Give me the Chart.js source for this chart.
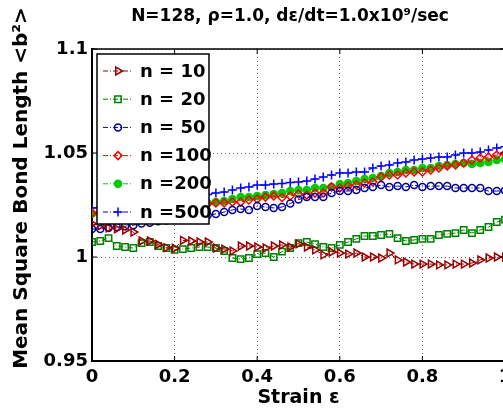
<!DOCTYPE html>
<html>
<head>
<meta charset="utf-8">
<script src="https://cdn.jsdelivr.net/npm/chart.js@4.4.0/dist/chart.umd.min.js"></script>
<style>
  html, body { margin: 0; padding: 0; background: #fff; overflow: hidden; }
  canvas { display: block; }
</style>
</head>
<body>
<canvas id="bondChart" width="520" height="413"></canvas>
<script>
// strain values (x) and mean square bond length for each n
const strain = [0, 0.02, 0.04, 0.06, 0.08, 0.1, 0.12, 0.14, 0.16, 0.18,
  0.2, 0.22, 0.24, 0.26, 0.28, 0.3, 0.32, 0.34, 0.36, 0.38,
  0.4, 0.42, 0.44, 0.46, 0.48, 0.5, 0.52, 0.54, 0.56, 0.58,
  0.6, 0.62, 0.64, 0.66, 0.68, 0.7, 0.72, 0.74, 0.76, 0.78,
  0.8, 0.82, 0.84, 0.86, 0.88, 0.9, 0.92, 0.94, 0.96, 0.98, 1];

const n10 = [1.016, 1.015, 1.014, 1.0135, 1.013, 1.012, 1.0077, 1.0077, 1.006, 1.0045,
  1.0042, 1.008, 1.0077, 1.0072, 1.0072, 1.0043, 1.0038, 1.0029, 1.0053, 1.0053,
  1.0048, 1.0043, 1.0053, 1.0058, 1.0048, 1.0063, 1.0048, 1.0034, 1.001, 1.0024,
  1.0019, 1.0014, 1.0019, 1.0, 1.0, 0.9995, 1.0019, 0.9986, 0.9976, 0.9966,
  0.9966, 0.9966, 0.9962, 0.9962, 0.9966, 0.9966, 0.9971, 0.9986, 0.9995, 1.0, 1.0];

const n20 = [1.0072, 1.0077, 1.0091, 1.0053, 1.0048, 1.0043, 1.0067, 1.0072, 1.0053, 1.0043,
  1.0034, 1.0038, 1.0043, 1.0048, 1.0048, 1.0043, 1.0029, 0.9995, 0.999, 0.9995,
  1.0014, 1.0019, 1.0, 1.0026, 1.0043, 1.0067, 1.0072, 1.0062, 1.0048, 1.0043,
  1.0058, 1.0072, 1.0087, 1.0101, 1.0101, 1.0106, 1.0111, 1.0091, 1.0077, 1.0082,
  1.0087, 1.0087, 1.0106, 1.0111, 1.0115, 1.013, 1.0115, 1.013, 1.0144, 1.0168, 1.018];

const n50 = [1.0135, 1.0135, 1.0139, 1.0144, 1.0148, 1.0153, 1.0161, 1.0165, 1.0172, 1.0176,
  1.0181, 1.0187, 1.0192, 1.0195, 1.0201, 1.0207, 1.0216, 1.0226, 1.0231, 1.0226,
  1.0245, 1.024, 1.0236, 1.024, 1.0257, 1.0276, 1.0288, 1.0288, 1.0288, 1.0308,
  1.0317, 1.0317, 1.0322, 1.0332, 1.0337, 1.0346, 1.0337, 1.0341, 1.0337, 1.0346,
  1.0337, 1.0341, 1.0341, 1.0341, 1.0332, 1.0332, 1.0332, 1.0332, 1.0317, 1.0317, 1.032];

const n100 = [1.0212, 1.0214, 1.0218, 1.022, 1.0224, 1.0227, 1.0231, 1.0233, 1.0237, 1.024,
  1.0243, 1.0247, 1.025, 1.0253, 1.0256, 1.026, 1.026, 1.0264, 1.0264, 1.0274,
  1.0279, 1.0288, 1.0293, 1.0286, 1.0293, 1.0303, 1.0298, 1.0308, 1.0308, 1.0337,
  1.0332, 1.0341, 1.0346, 1.0356, 1.0361, 1.0385, 1.0394, 1.0394, 1.0404, 1.0409,
  1.0409, 1.0418, 1.0428, 1.0438, 1.0442, 1.0452, 1.0466, 1.0476, 1.0481, 1.049, 1.0498];

const n200 = [1.0208, 1.021, 1.0214, 1.0216, 1.0221, 1.0224, 1.0228, 1.0231, 1.0236, 1.0238,
  1.0243, 1.0246, 1.0251, 1.0255, 1.0259, 1.0264, 1.0269, 1.0279, 1.0288, 1.0288,
  1.0293, 1.0298, 1.0303, 1.0308, 1.0317, 1.0322, 1.0322, 1.0332, 1.0332, 1.0337,
  1.0351, 1.0356, 1.0365, 1.0375, 1.038, 1.039, 1.0404, 1.0409, 1.0418, 1.0418,
  1.0428, 1.0428, 1.0438, 1.0442, 1.0447, 1.0452, 1.0447, 1.0452, 1.0457, 1.0466, 1.047];

const n500 = [1.0236, 1.0238, 1.0243, 1.0247, 1.0252, 1.0256, 1.0261, 1.0266, 1.027, 1.0274,
  1.0279, 1.0284, 1.0289, 1.0295, 1.0301, 1.0308, 1.0312, 1.0322, 1.0332, 1.0337,
  1.0346, 1.0346, 1.0351, 1.0353, 1.0358, 1.0361, 1.0365, 1.0375, 1.0385, 1.0394,
  1.0404, 1.0404, 1.0409, 1.0409, 1.0428, 1.0438, 1.0442, 1.0452, 1.0457, 1.0466,
  1.0471, 1.0476, 1.0481, 1.0481, 1.049, 1.05, 1.05, 1.0505, 1.0514, 1.0524, 1.053];

const seriesLabels = ['n = 10', 'n = 20', 'n = 50', 'n =100', 'n =200', 'n =500'];
const xTicks = [0, 0.2, 0.4, 0.6, 0.8, 1];
const yTicks = [0.95, 1, 1.05, 1.1];

const titleText = 'N=128, \u03C1=1.0, d\u03B5/dt=1.0x10\u2079/sec';
const yTitle = 'Mean Square Bond Length <b\u00B2>';
const xTitle = 'Strain \u03B5';

const FONT = 'DejaVu Sans';
const DASH = [5, 2, 1, 2];

const toPoints = ys => ys.map((v, i) => ({ x: strain[i], y: v }));

function series(label, ys, color, style, extra) {
  return Object.assign({
    label: label,
    data: toPoints(ys),
    borderColor: color,
    backgroundColor: 'rgba(0,0,0,0)',
    pointBorderColor: color,
    pointBackgroundColor: 'rgba(0,0,0,0)',
    pointStyle: style,
    pointRadius: 3.5,
    pointHoverRadius: 3.5,
    pointBorderWidth: 1.5,
    borderWidth: 1,
    borderDash: DASH,
    tension: 0
  }, extra || {});
}

// title, axis box, inward ticks, y label and in-plot legend
const framePlugin = {
  id: 'matlabFrame',
  afterDatasetsDraw(chart) {
    const { ctx, chartArea: a, scales: { x, y } } = chart;
    ctx.save();

    // top / right box edges
    ctx.strokeStyle = '#000';
    ctx.lineWidth = 1.5;
    ctx.beginPath();
    ctx.moveTo(a.left, a.top);
    ctx.lineTo(a.right, a.top);
    ctx.lineTo(a.right, a.bottom);
    ctx.stroke();

    // inward tick marks
    ctx.lineWidth = 1;
    ctx.beginPath();
    xTicks.forEach(v => {
      const px = x.getPixelForValue(v);
      ctx.moveTo(px, a.bottom); ctx.lineTo(px, a.bottom - 5);
      ctx.moveTo(px, a.top); ctx.lineTo(px, a.top + 5);
    });
    yTicks.forEach(v => {
      const py = y.getPixelForValue(v);
      ctx.moveTo(a.left, py); ctx.lineTo(a.left + 5, py);
      ctx.moveTo(a.right, py); ctx.lineTo(a.right - 5, py);
    });
    ctx.stroke();

    // legend box
    const lx = 97, ly = 54, lw = 112, lh = 170;
    ctx.fillStyle = '#fff';
    ctx.fillRect(lx, ly, lw, lh);
    ctx.lineWidth = 1.5;
    ctx.strokeStyle = '#000';
    ctx.strokeRect(lx, ly, lw, lh);

    ctx.font = 'bold 18px "' + FONT + '"';
    ctx.textBaseline = 'middle';
    ctx.textAlign = 'left';
    chart.data.datasets.forEach((ds, k) => {
      const ry = 71 + k * 28.2;
      ctx.strokeStyle = ds.borderColor;
      ctx.lineWidth = 1;
      ctx.setLineDash(DASH);
      ctx.beginPath();
      ctx.moveTo(103, ry);
      ctx.lineTo(133, ry);
      ctx.stroke();
      ctx.setLineDash([]);
      ctx.strokeStyle = ds.pointBorderColor;
      ctx.fillStyle = ds.pointBackgroundColor;
      ctx.lineWidth = ds.pointBorderWidth;
      Chart.helpers.drawPoint(ctx, {
        pointStyle: ds.pointStyle,
        rotation: ds.pointRotation || 0,
        radius: ds.pointRadius,
        borderWidth: ds.pointBorderWidth
      }, 118, ry);
      ctx.fillStyle = '#000';
      ctx.fillText(ds.label, 140, ry + 1);
    });

    // chart title
    ctx.font = 'bold 17px "' + FONT + '"';
    ctx.textAlign = 'center';
    ctx.fillStyle = '#000';
    ctx.fillText(titleText, 290, 17);

    // y axis label
    ctx.translate(22, 188);
    ctx.rotate(-Math.PI / 2);
    ctx.font = 'bold 20px "' + FONT + '"';
    ctx.fillText(yTitle, 0, 0);

    ctx.restore();
  }
};

const ctx = document.getElementById('bondChart').getContext('2d');
const bondChart = new Chart(ctx, {
  type: 'line',
  data: {
    datasets: [
      series(seriesLabels[0], n10, '#990000', 'triangle', { pointRotation: 90, pointRadius: 4.5 }),
      series(seriesLabels[1], n20, '#008000', 'rect', { pointRadius: 4.5 }),
      series(seriesLabels[2], n50, '#000099', 'circle', { pointRadius: 3.5 }),
      series(seriesLabels[3], n100, '#ff0000', 'rectRot', { pointRadius: 4 }),
      series(seriesLabels[4], n200, '#00cc00', 'circle', { pointRadius: 3.5, pointBackgroundColor: '#00cc00' }),
      series(seriesLabels[5], n500, '#0000ff', 'cross', { pointRadius: 4.5 })
    ]
  },
  options: {
    responsive: false,
    animation: false,
    layout: { padding: { top: 49, right: 15, left: 0, bottom: 0 } },
    plugins: {
      legend: { display: false },
      tooltip: { enabled: false },
      title: { display: false }
    },
    scales: {
      x: {
        type: 'linear',
        min: 0,
        max: 1,
        afterBuildTicks: scale => { scale.ticks = xTicks.map(v => ({ value: v })); },
        afterFit: scale => { scale.height = 52; },
        ticks: {
          autoSkip: false,
          maxRotation: 0,
          padding: 6,
          color: '#000',
          font: { family: FONT, size: 18, weight: 'bold' },
          callback: v => String(v)
        },
        grid: { color: 'rgba(0,0,0,0.6)', lineWidth: 1, drawTicks: false },
        border: { display: true, color: '#000', width: 2, dash: [1, 3] },
        title: {
          display: true,
          text: xTitle,
          color: '#000',
          font: { family: FONT, size: 19, weight: 'bold' },
          padding: { top: 0, bottom: 4 }
        }
      },
      y: {
        type: 'linear',
        min: 0.95,
        max: 1.1,
        afterBuildTicks: scale => { scale.ticks = yTicks.map(v => ({ value: v })); },
        afterFit: scale => { scale.width = 92; },
        ticks: {
          autoSkip: false,
          padding: 4,
          color: '#000',
          font: { family: FONT, size: 18, weight: 'bold' },
          callback: v => String(Number(v.toFixed(2)))
        },
        grid: { color: 'rgba(0,0,0,0.6)', lineWidth: 1, drawTicks: false },
        border: { display: true, color: '#000', width: 2, dash: [1, 3] }
      }
    }
  },
  plugins: [framePlugin]
});
</script>
</body>
</html>
